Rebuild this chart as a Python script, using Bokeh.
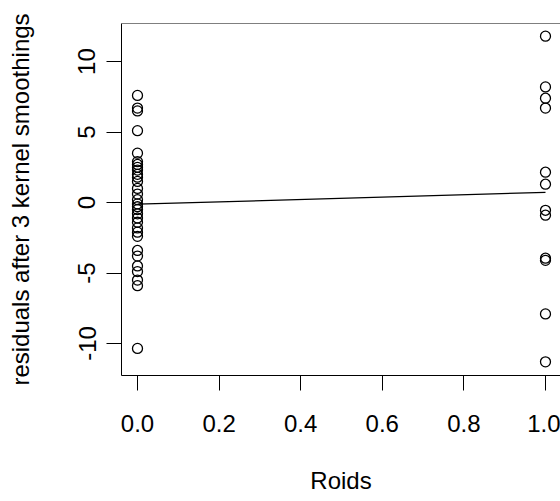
from bokeh.plotting import figure
from bokeh.models import Range1d, FixedTicker, CustomJSTickFormatter, Span
from bokeh.embed import file_html
from bokeh.resources import INLINE

# Data
resid_roids0 = [7.6, 6.7, 6.5, 5.1, 3.5, 2.9, 2.7, 2.5, 2.3, 2.0, 1.8, 1.5, 1.0, 0.6,
                0.2, -0.1, -0.3, -0.5, -0.8, -1.1, -1.4, -1.8, -2.1, -2.4, -3.4,
                -3.8, -4.5, -4.9, -5.5, -5.9, -10.35]
resid_roids1 = [11.8, 8.2, 7.4, 6.7, 2.15, 1.3, -0.55, -0.9, -3.95, -4.1, -7.9, -11.3]
fit_x = [0.0, 1.0]
fit_y = [-0.12, 0.72]
x_ticks = [0.0, 0.2, 0.4, 0.6, 0.8, 1.0]
y_ticks = [-10, -5, 0, 5, 10]

xs = [0.0] * len(resid_roids0) + [1.0] * len(resid_roids1)
ys = resid_roids0 + resid_roids1

FONT = "Liberation Sans"
FS = "24px"

p = figure(width=560, height=501, output_backend="svg", toolbar_location=None,
           x_range=Range1d(-0.0392, 1.0368), y_range=Range1d(-12.27, 12.70),
           min_border_left=121, min_border_right=0, min_border_top=23,
           min_border_bottom=126)
p.outline_line_color = None
p.grid.visible = False
p.background_fill_color = "white"
p.border_fill_color = "white"

# axes
for ax in (p.xaxis[0], p.yaxis[0]):
    ax.axis_line_color = "black"
    ax.axis_line_width = 1
    ax.major_tick_in = 0
    ax.major_tick_out = 15
    ax.major_tick_line_width = 1
    ax.minor_tick_line_color = None
    ax.major_label_text_font = FONT
    ax.major_label_text_font_size = FS
    ax.major_label_text_color = "black"
    ax.axis_label_text_font = FONT
    ax.axis_label_text_font_size = FS
    ax.axis_label_text_font_style = "normal"
    ax.axis_label_text_color = "black"

p.xaxis.ticker = FixedTicker(ticks=x_ticks)
p.xaxis.formatter = CustomJSTickFormatter(code="return tick.toFixed(1);")
p.xaxis.axis_label = "Roids"
p.xaxis.major_label_standoff = 24
p.xaxis.axis_label_standoff = 32

p.yaxis.ticker = FixedTicker(ticks=y_ticks)
p.yaxis.formatter = CustomJSTickFormatter(code="return tick.toFixed(0);")
p.yaxis.major_label_orientation = "vertical"
p.yaxis.axis_label = "residuals after 3 kernel smoothings"
p.yaxis.major_label_standoff = 11
p.yaxis.axis_label_standoff = 42

# top border of box
p.add_layout(Span(location=12.70, dimension="width", line_color="black", line_width=1))

p.line(fit_x, fit_y, line_color="black", line_width=1.2)
p.scatter(xs, ys, marker="circle", size=10, fill_color=None,
          line_color="black", line_width=1.3)

open("out.html", "w").write(file_html(p, INLINE))
